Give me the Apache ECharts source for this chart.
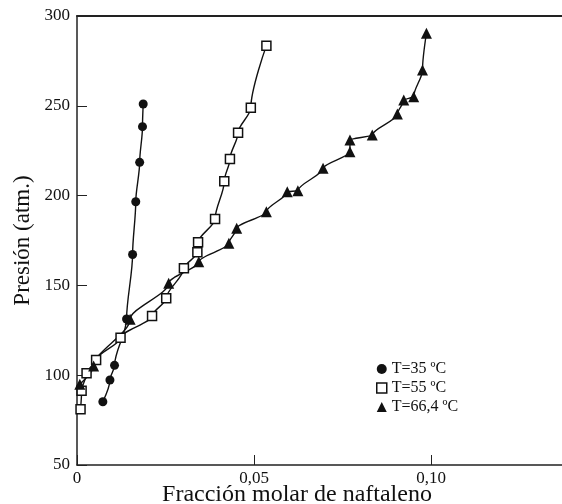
<!DOCTYPE html>
<html>
<head>
<meta charset="utf-8">
<script src="https://cdn.jsdelivr.net/npm/echarts@6/dist/echarts.min.js"></script>
<style>html,body{margin:0;padding:0;background:#fff}#c{width:562px;height:504px}</style>
</head>
<body>
<div id="c"></div>
<script>
// T = 35 ºC (filled circles)
const x35 = [0.0073, 0.0093, 0.0106, 0.0140, 0.0157, 0.0166, 0.0177, 0.0185, 0.0187];
const p35 = [85.2, 97.3, 105.5, 131.3, 167.2, 196.6, 218.5, 238.4, 251.0];
// T = 55 ºC (hollow squares)
const x55 = [0.0010, 0.0013, 0.0027, 0.0054, 0.0123, 0.0212, 0.0252, 0.0302, 0.0340, 0.0342, 0.0390, 0.0416, 0.0432, 0.0455, 0.0491, 0.0535];
const p55 = [81.0, 91.4, 101.1, 108.5, 120.9, 133.0, 142.8, 159.5, 168.4, 174.0, 187.0, 208.0, 220.4, 235.0, 248.9, 283.5];
// T = 66,4 ºC (filled triangles)
const x66 = [0.0008, 0.0047, 0.0150, 0.0259, 0.0344, 0.0429, 0.0451, 0.0535, 0.0594, 0.0624, 0.0695, 0.0771, 0.0771, 0.0834, 0.0905, 0.0923, 0.0951, 0.0976, 0.0987];
const p66 = [95.0, 105.1, 131.1, 151.2, 163.2, 173.4, 181.8, 191.0, 202.2, 202.7, 215.2, 224.4, 231.0, 233.7, 245.4, 253.2, 255.1, 270.0, 290.4];
const xTicks = [0, 0.05, 0.10];
const xTickLabels = ['0', '0,05', '0,10'];
const names = ['T=35 ºC', 'T=55 ºC', 'T=66,4 ºC'];

const serif = '"Liberation Serif", "DejaVu Serif", serif';
const pair = (xs, ys) => xs.map((v, i) => [v, ys[i]]);
const chart = echarts.init(document.getElementById('c'));
const lineStyle = {color: '#111', width: 1.4};
chart.setOption({
  animation: false,
  backgroundColor: '#fff',
  textStyle: {fontFamily: serif, color: '#111'},
  grid: {left: 77, top: 16, right: 0, bottom: 39, containLabel: false, outerBoundsMode: 'none'},
  legend: {
    orient: 'vertical', left: 371, top: 356, itemWidth: 10, itemHeight: 10, itemGap: 3,
    textStyle: {fontFamily: serif, fontSize: 16, color: '#111'},
    data: [
      {name: names[0], icon: 'circle', itemStyle: {color: '#111'}},
      {name: names[1], icon: 'rect', itemStyle: {color: '#fff', borderColor: '#111', borderWidth: 1.5}},
      {name: names[2], icon: 'triangle', itemStyle: {color: '#111'}}
    ]
  },
  xAxis: [{
    type: 'value', min: 0, max: 0.137, interval: 0.05,
    name: 'Fracción molar de naftaleno', nameLocation: 'middle', nameGap: 18, nameMoveOverlap: false,
    nameTextStyle: {fontFamily: serif, fontSize: 24, color: '#111', padding: [0, 45, 0, 0]},
    axisLine: {show: true, onZero: false, lineStyle: {color: '#222', width: 1.5}},
    axisTick: {show: true, inside: true, length: 10, lineStyle: {color: '#222'}},
    axisLabel: {fontFamily: serif, fontSize: 17, color: '#111', margin: 5, showMaxLabel: false,
      formatter: v => { const i = xTicks.findIndex(t => Math.abs(t - v) < 1e-9); return i >= 0 ? xTickLabels[i] : ''; }},
    splitLine: {show: false}
  }, {
    type: 'value', position: 'top', min: 0, max: 0.137,
    axisLine: {show: true, lineStyle: {color: '#222', width: 2}},
    axisTick: {show: false}, axisLabel: {show: false}, splitLine: {show: false}
  }],
  yAxis: {
    type: 'value', min: 50, max: 300, interval: 50,
    name: 'Presión (atm.)', nameLocation: 'middle', nameGap: 43, nameMoveOverlap: false,
    nameTextStyle: {fontFamily: serif, fontSize: 23, color: '#111'},
    axisLine: {show: true, lineStyle: {color: '#222', width: 1.5}},
    axisTick: {show: true, inside: true, length: 10, lineStyle: {color: '#222'}},
    axisLabel: {fontFamily: serif, fontSize: 17, color: '#111', margin: 7},
    splitLine: {show: false}
  },
  series: [
    {name: names[0], type: 'line', smooth: 0.3, smoothMonotone: 'y', data: pair(x35, p35), symbol: 'circle', symbolSize: 9,
      itemStyle: {color: '#111'}, lineStyle: lineStyle},
    {name: names[1], type: 'line', smooth: 0.3, smoothMonotone: 'y', data: pair(x55, p55), symbol: 'rect', symbolSize: 9,
      itemStyle: {color: '#fff', borderColor: '#111', borderWidth: 1.5}, lineStyle: lineStyle},
    {name: names[2], type: 'line', smooth: 0.3, smoothMonotone: 'y', data: pair(x66, p66), symbol: 'triangle', symbolSize: 11,
      itemStyle: {color: '#111'}, lineStyle: lineStyle}
  ]
});
</script>
</body>
</html>
